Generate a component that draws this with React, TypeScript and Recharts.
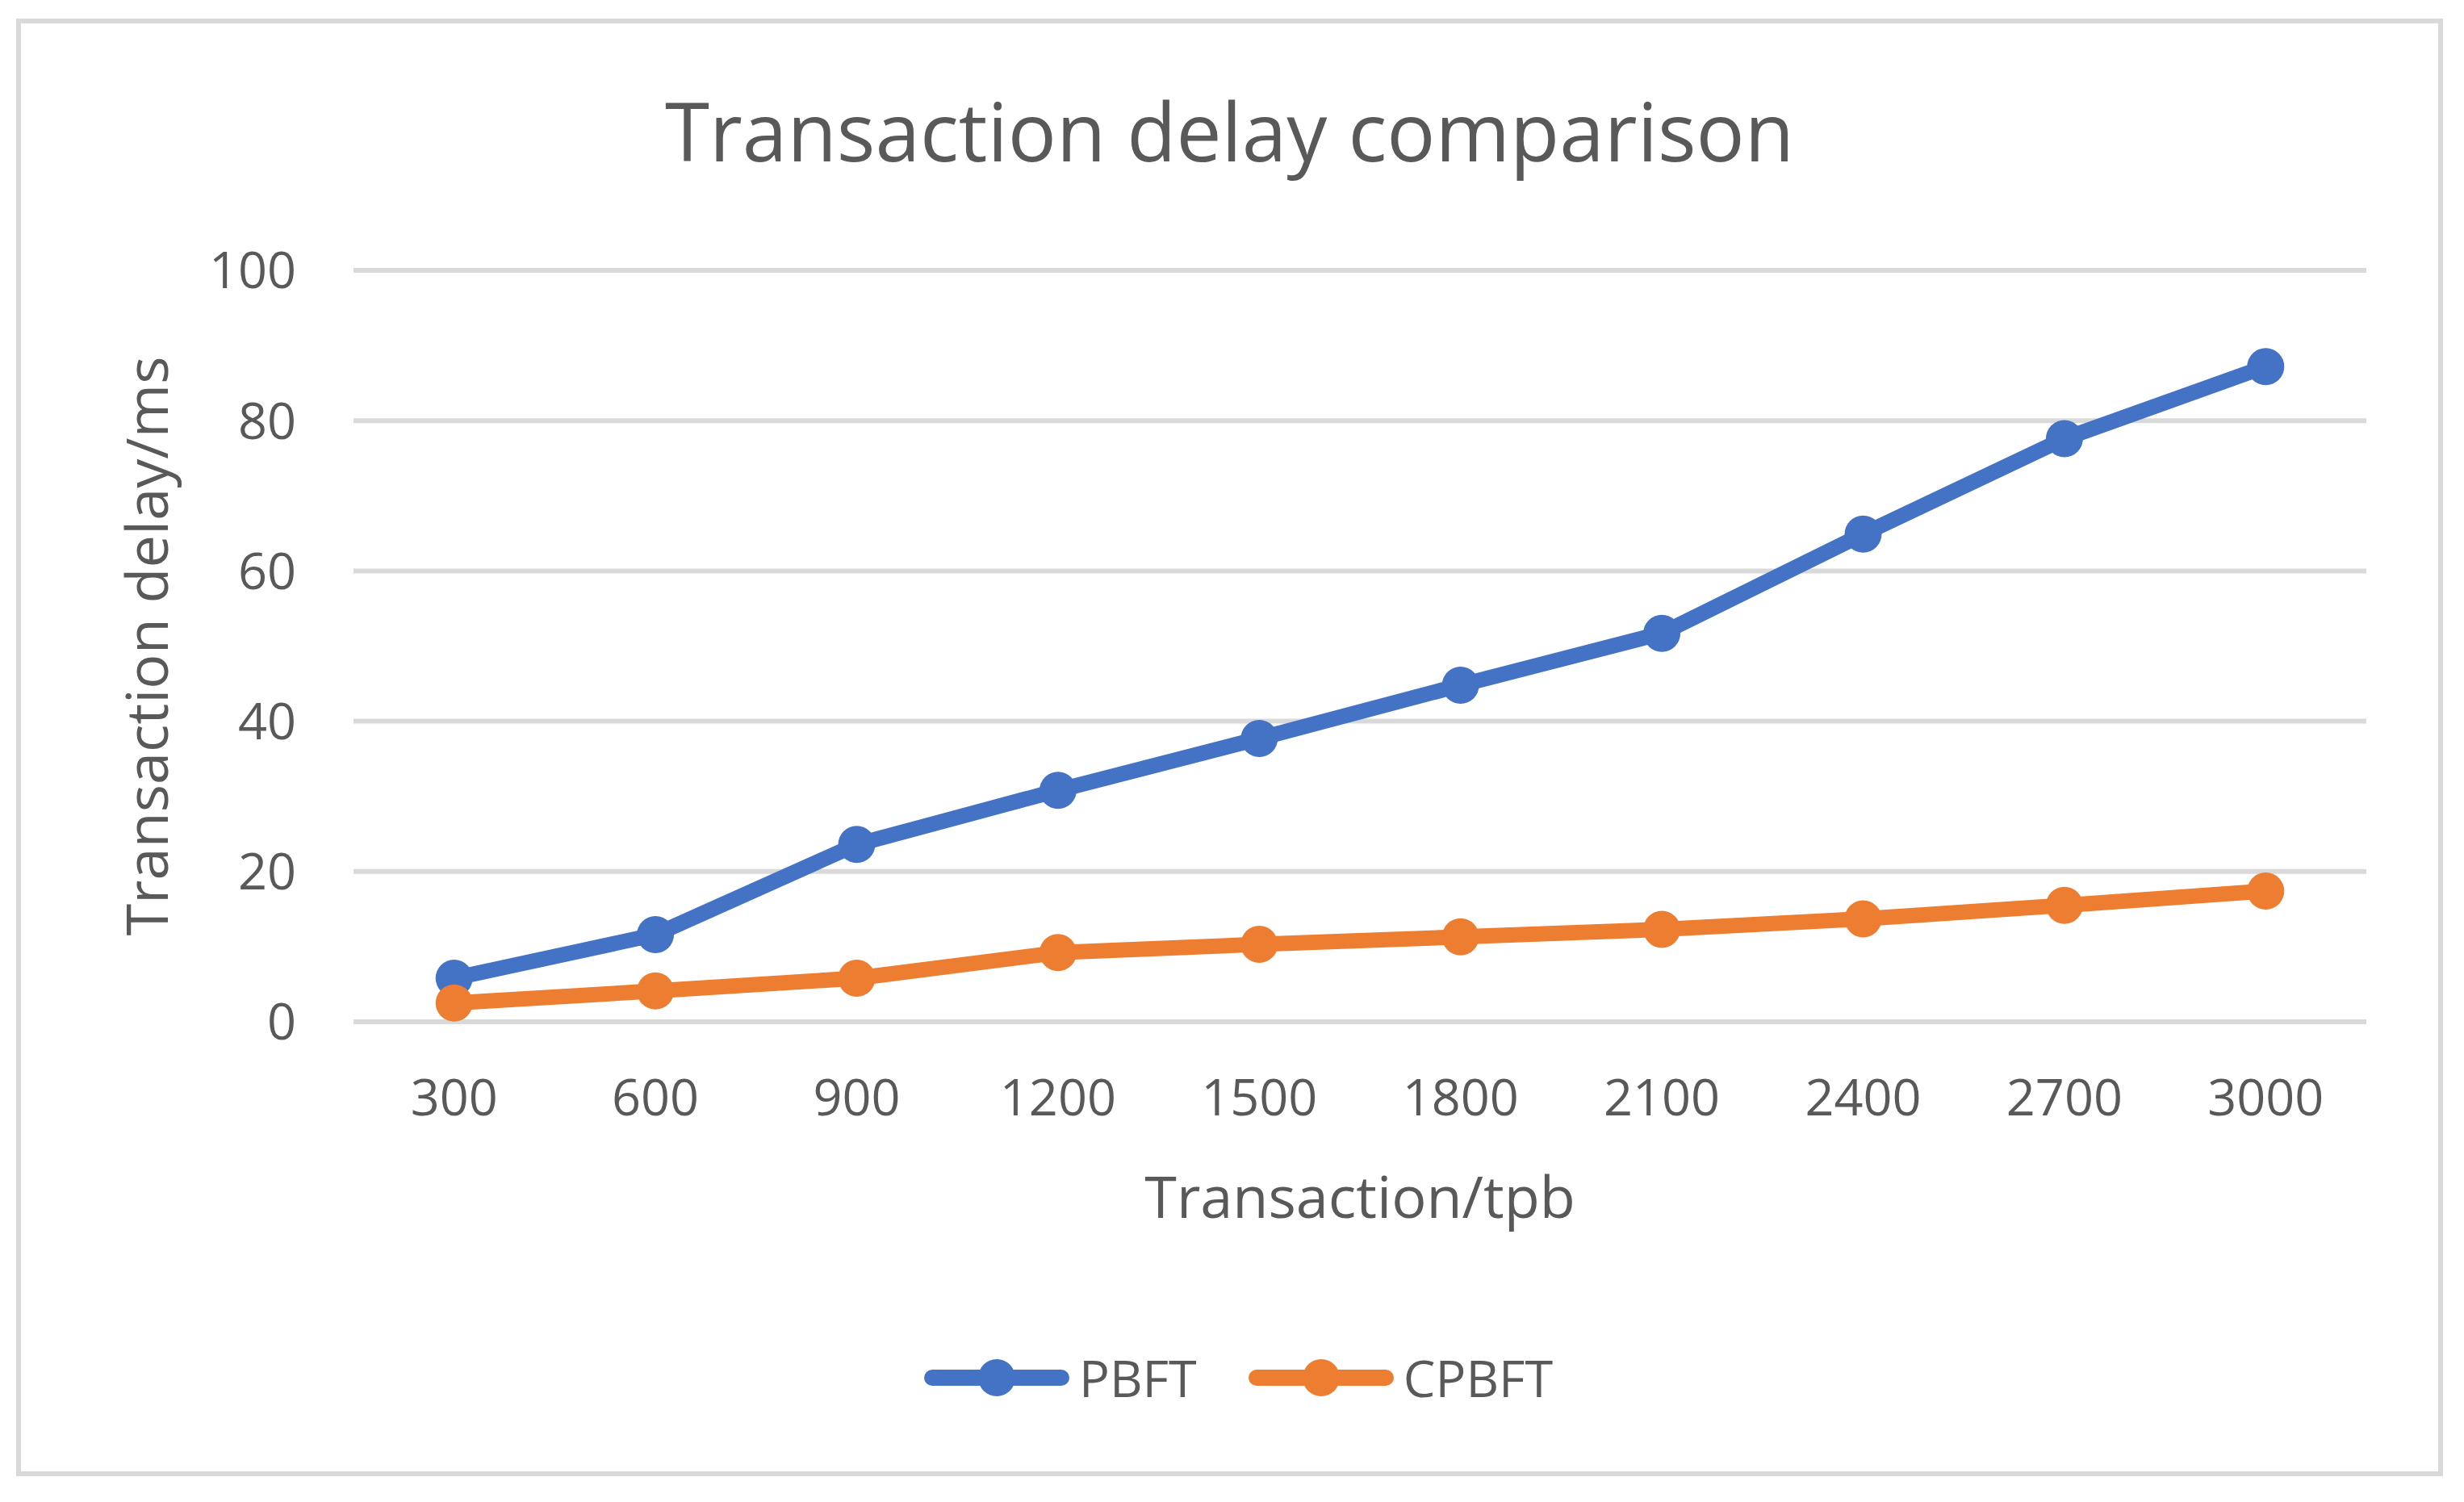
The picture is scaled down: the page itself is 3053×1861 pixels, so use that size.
import React from 'react';
import { LineChart, Line, XAxis, YAxis, CartesianGrid, Legend } from 'recharts';

const tpbLabels = ['300', '600', '900', '1200', '1500', '1800', '2100', '2400', '2700', '3000'];
const pbftDelay = [5.8, 11.6, 23.6, 30.8, 37.7, 44.8, 51.7, 64.9, 77.6, 87.2];
const cpbftDelay = [2.5, 4.1, 5.8, 9.2, 10.3, 11.3, 12.3, 13.7, 15.5, 17.4];
const yTicks = [0, 20, 40, 60, 80, 100];
const seriesOrder = ['PBFT', 'CPBFT'];

const data = tpbLabels.map((tpb, i) => ({ tpb, PBFT: pbftDelay[i], CPBFT: cpbftDelay[i] }));

const TEXT = '#595959';
const GRID = '#d9d9d9';
const FONT = '"Open Sans", sans-serif';

const renderLegend = (props: any) => {
  const payload = [...(props.payload || [])].sort(
    (a: any, b: any) => seriesOrder.indexOf(a.value) - seriesOrder.indexOf(b.value)
  );
  return (
    <div style={{ display: 'flex', alignItems: 'center', gap: 64, fontFamily: FONT }}>
      {payload.map((entry: any) => (
        <div key={entry.value} style={{ display: 'flex', alignItems: 'center' }}>
          <svg width={180} height={50}>
            <line x1={10} y1={25} x2={170} y2={25} stroke={entry.color} strokeWidth={20} strokeLinecap="round" />
            <circle cx={90} cy={25} r={23} fill={entry.color} />
          </svg>
          <span style={{ marginLeft: 12, fontSize: 63, color: TEXT, lineHeight: 1 }}>{entry.value}</span>
        </div>
      ))}
    </div>
  );
};

export default function App() {
  return (
    <div style={{ position: 'absolute', left: 0, top: 0, width: 3053, height: 1861, background: '#fff', fontFamily: FONT }}>
      <div
        style={{
          position: 'absolute', left: 20, top: 23, width: 3007, height: 1806,
          border: `6px solid ${GRID}`, boxSizing: 'border-box',
        }}
      />
      <div
        style={{
          position: 'absolute', left: 20, top: 111, width: 3007, textAlign: 'center',
          fontSize: 100, lineHeight: '100px', color: TEXT,
        }}
      >
        Transaction delay comparison
      </div>
      <div style={{ position: 'absolute', left: 0, top: 0 }}>
        <LineChart
          width={3053}
          height={1861}
          data={data}
          margin={{ top: 335, right: 121, bottom: 345, left: 238 }}
        >
          <CartesianGrid vertical={false} stroke={GRID} strokeWidth={6} />
          <XAxis
            dataKey="tpb"
            scale="band"
            height={250}
            axisLine={false}
            tickLine={false}
            tickMargin={65}
            tick={{ fill: TEXT, fontSize: 63, fontFamily: FONT }}
            label={{
              content: (p: any) => {
                const vb = p.viewBox;
                return (
                  <text x={vb.x + vb.width / 2} y={1509} textAnchor="middle" fill={TEXT} fontSize={72} fontFamily={FONT}>
                    Transaction/tpb
                  </text>
                );
              },
            }}
          />
          <YAxis
            width={200}
            domain={[0, 100]}
            ticks={yTicks}
            axisLine={false}
            tickLine={false}
            tickMargin={65}
            tick={{ fill: TEXT, fontSize: 63, fontFamily: FONT }}
            label={{
              content: (p: any) => {
                const vb = p.viewBox;
                const cy = vb.y + vb.height / 2;
                return (
                  <text x={208} y={cy} transform={`rotate(-90, 208, ${cy})`} textAnchor="middle" fill={TEXT} fontSize={72} fontFamily={FONT}>
                    Transaction delay/ms
                  </text>
                );
              },
            }}
          />
          <Legend
            align="center"
            verticalAlign="middle"
            content={renderLegend}
            wrapperStyle={{ left: 1145, top: 1675, width: 'auto', height: 'auto' }}
          />
          <Line
            type="linear"
            dataKey="PBFT"
            stroke="#4472c4"
            strokeWidth={19}
            strokeLinejoin="round"
            dot={{ r: 23, fill: '#4472c4', stroke: '#4472c4', strokeWidth: 0 }}
            isAnimationActive={false}
          />
          <Line
            type="linear"
            dataKey="CPBFT"
            stroke="#ed7d31"
            strokeWidth={19}
            strokeLinejoin="round"
            dot={{ r: 23, fill: '#ed7d31', stroke: '#ed7d31', strokeWidth: 0 }}
            isAnimationActive={false}
          />
        </LineChart>
      </div>
    </div>
  );
}
